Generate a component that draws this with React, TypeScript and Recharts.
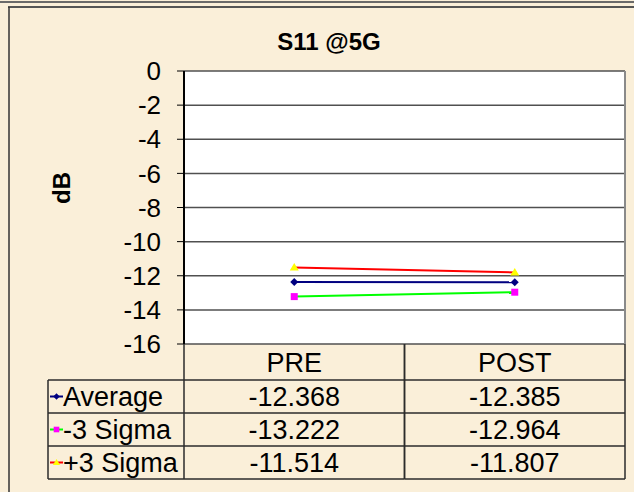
import React from 'react';
import { LineChart, Line, XAxis, YAxis, CartesianGrid, Customized } from 'recharts';

const categories = ['PRE', 'POST'];
const averageValues = [-12.368, -12.385];
const minus3SigmaValues = [-13.222, -12.964];
const plus3SigmaValues = [-11.514, -11.807];
const yTicks = [0, -2, -4, -6, -8, -10, -12, -14, -16];
const chartTitle = 'S11 @5G';
const yAxisTitle = 'dB';

const series = [
  { key: 'avg', name: 'Average', values: averageValues, line: '#000080', marker: 'diamond', markerColor: '#000080' },
  { key: 'm3', name: '-3 Sigma', values: minus3SigmaValues, line: '#00FF00', marker: 'square', markerColor: '#FF00FF' },
  { key: 'p3', name: '+3 Sigma', values: plus3SigmaValues, line: '#FF0000', marker: 'triangle', markerColor: '#FFFF00' },
];

const data = categories.map((c, i) => {
  const row: Record<string, any> = { cat: c };
  series.forEach((s) => { row[s.key] = s.values[i]; });
  return row;
});

const W = 634;
const H = 492;
const PLOT_LEFT = 184;
const PLOT_RIGHT = 625;
const PLOT_TOP = 71;
const PLOT_BOTTOM = 344;
const HEADER_H = 36;
const ROW_H = 33;
const TABLE_LEFT = 48;
const TABLE_FONT = 27;
const FONT = '"Liberation Sans", Arial, Helvetica, sans-serif';
const BG = '#FAEFD9';
const TABLE_STROKE = '#2b2b2b';

const Marker = ({ kind, cx, cy, color, s = 1 }: any) => {
  if (kind === 'diamond') {
    const r = 4 * s;
    return <polygon points={`${cx},${cy - r} ${cx + r},${cy} ${cx},${cy + r} ${cx - r},${cy}`} fill={color} />;
  }
  if (kind === 'square') {
    const r = 3.5 * s;
    return <rect x={cx - r} y={cy - r} width={2 * r} height={2 * r} fill={color} />;
  }
  const r = 4.5 * s;
  return <polygon points={`${cx},${cy - r} ${cx + r},${cy + r * 0.7} ${cx - r},${cy + r * 0.7}`} fill={color} />;
};

const TableTick = (props: any) => {
  const { x, payload, index } = props;
  const i = typeof payload?.index === 'number' ? payload.index : index;
  const colW = (PLOT_RIGHT - PLOT_LEFT) / categories.length;
  const left = x - colW / 2;
  const right = x + colW / 2;
  const bottom = PLOT_BOTTOM + HEADER_H + ROW_H * series.length;
  const els: any[] = [];
  els.push(
    <text key="h" x={x} y={PLOT_BOTTOM + HEADER_H / 2 + 9.5} textAnchor="middle" fontSize={TABLE_FONT} fontFamily={FONT} fill="#000">
      {payload.value}
    </text>
  );
  series.forEach((s, r) => {
    const cy = PLOT_BOTTOM + HEADER_H + ROW_H * r + ROW_H / 2;
    els.push(
      <text key={`v${r}`} x={x} y={cy + 9.5} textAnchor="middle" fontSize={TABLE_FONT} fontFamily={FONT} fill="#000">
        {s.values[i].toFixed(3)}
      </text>
    );
  });
  els.push(<line key="vr" x1={right} x2={right} y1={PLOT_BOTTOM} y2={bottom} stroke={TABLE_STROKE} strokeWidth={1.5} />);
  els.push(<line key="vl" x1={left} x2={left} y1={PLOT_BOTTOM} y2={bottom} stroke={TABLE_STROKE} strokeWidth={1.5} />);
  for (let r = 0; r <= series.length; r++) {
    const yy = PLOT_BOTTOM + HEADER_H + ROW_H * r;
    els.push(<line key={`hl${r}`} x1={left} x2={right} y1={yy} y2={yy} stroke={TABLE_STROKE} strokeWidth={1.5} />);
  }
  if (i === 0) {
    els.push(<line key="tl" x1={TABLE_LEFT} x2={TABLE_LEFT} y1={PLOT_BOTTOM + HEADER_H} y2={bottom} stroke={TABLE_STROKE} strokeWidth={1.5} />);
    for (let r = 0; r <= series.length; r++) {
      const yy = PLOT_BOTTOM + HEADER_H + ROW_H * r;
      els.push(<line key={`rl${r}`} x1={TABLE_LEFT} x2={left} y1={yy} y2={yy} stroke={TABLE_STROKE} strokeWidth={1.5} />);
    }
    series.forEach((s, r) => {
      const cy = PLOT_BOTTOM + HEADER_H + ROW_H * r + ROW_H / 2;
      els.push(<line key={`kl${r}`} x1={TABLE_LEFT + 2} x2={TABLE_LEFT + 15} y1={cy} y2={cy} stroke={s.line} strokeWidth={2} />);
      els.push(<Marker key={`km${r}`} kind={s.marker} cx={TABLE_LEFT + 8.5} cy={cy} color={s.markerColor} s={0.8} />);
      els.push(
        <text key={`rn${r}`} x={TABLE_LEFT + 15} y={cy + 9.5} textAnchor="start" fontSize={TABLE_FONT} fontFamily={FONT} fill="#000">
          {s.name}
        </text>
      );
    });
  }
  return <g>{els}</g>;
};

const Decor = () => (
  <g>
    <line x1={0} x2={W} y1={2} y2={2} stroke="#6a6a6a" strokeWidth={2} />
    <line x1={8} x2={W} y1={7} y2={7} stroke="#555" strokeWidth={2} />
    <line x1={9} x2={9} y1={7} y2={H} stroke="#333" strokeWidth={1.5} />
    <line x1={PLOT_RIGHT} x2={PLOT_RIGHT} y1={PLOT_TOP} y2={PLOT_BOTTOM} stroke="#8a8a8a" strokeWidth={2} />
    <text x={329} y={50} textAnchor="middle" fontSize={24} fontWeight="bold" fontFamily={FONT} fill="#000">
      {chartTitle}
    </text>
    <text x={61} y={188} transform="rotate(-90 61 188)" textAnchor="middle" dominantBaseline="central" fontSize={24} fontWeight="bold" fontFamily={FONT} fill="#000">
      {yAxisTitle}
    </text>
  </g>
);

export default function App() {
  return (
    <div style={{ position: 'absolute', left: 0, top: 0, width: W, height: H, background: BG }}>
      <LineChart
        width={W}
        height={H}
        data={data}
        margin={{ top: PLOT_TOP, right: W - PLOT_RIGHT, left: 0, bottom: 0 }}
      >
        <CartesianGrid fill="#FFFFFF" vertical={false} stroke="#505050" strokeWidth={1.5} />
        <XAxis
          dataKey="cat"
          type="category"
          scale="band"
          height={H - PLOT_BOTTOM}
          axisLine={false}
          tickLine={false}
          interval={0}
          tick={<TableTick />}
        />
        <YAxis
          type="number"
          domain={[-16, 0]}
          ticks={yTicks}
          width={PLOT_LEFT}
          interval={0}
          tickSize={7}
          tickMargin={16}
          axisLine={{ stroke: '#000', strokeWidth: 2 }}
          tickLine={{ stroke: '#000', strokeWidth: 1 }}
          tick={{ fontSize: 26, fill: '#000', fontFamily: FONT }}
        />
        {series.map((s) => (
          <Line
            key={s.key}
            dataKey={s.key}
            name={s.name}
            stroke={s.line}
            strokeWidth={2}
            isAnimationActive={false}
            dot={(p: any) => <Marker key={`${s.key}-${p.index}`} kind={s.marker} cx={p.cx} cy={p.cy} color={s.markerColor} />}
            activeDot={false}
          />
        ))}
        <Customized component={<Decor />} />
      </LineChart>
    </div>
  );
}
